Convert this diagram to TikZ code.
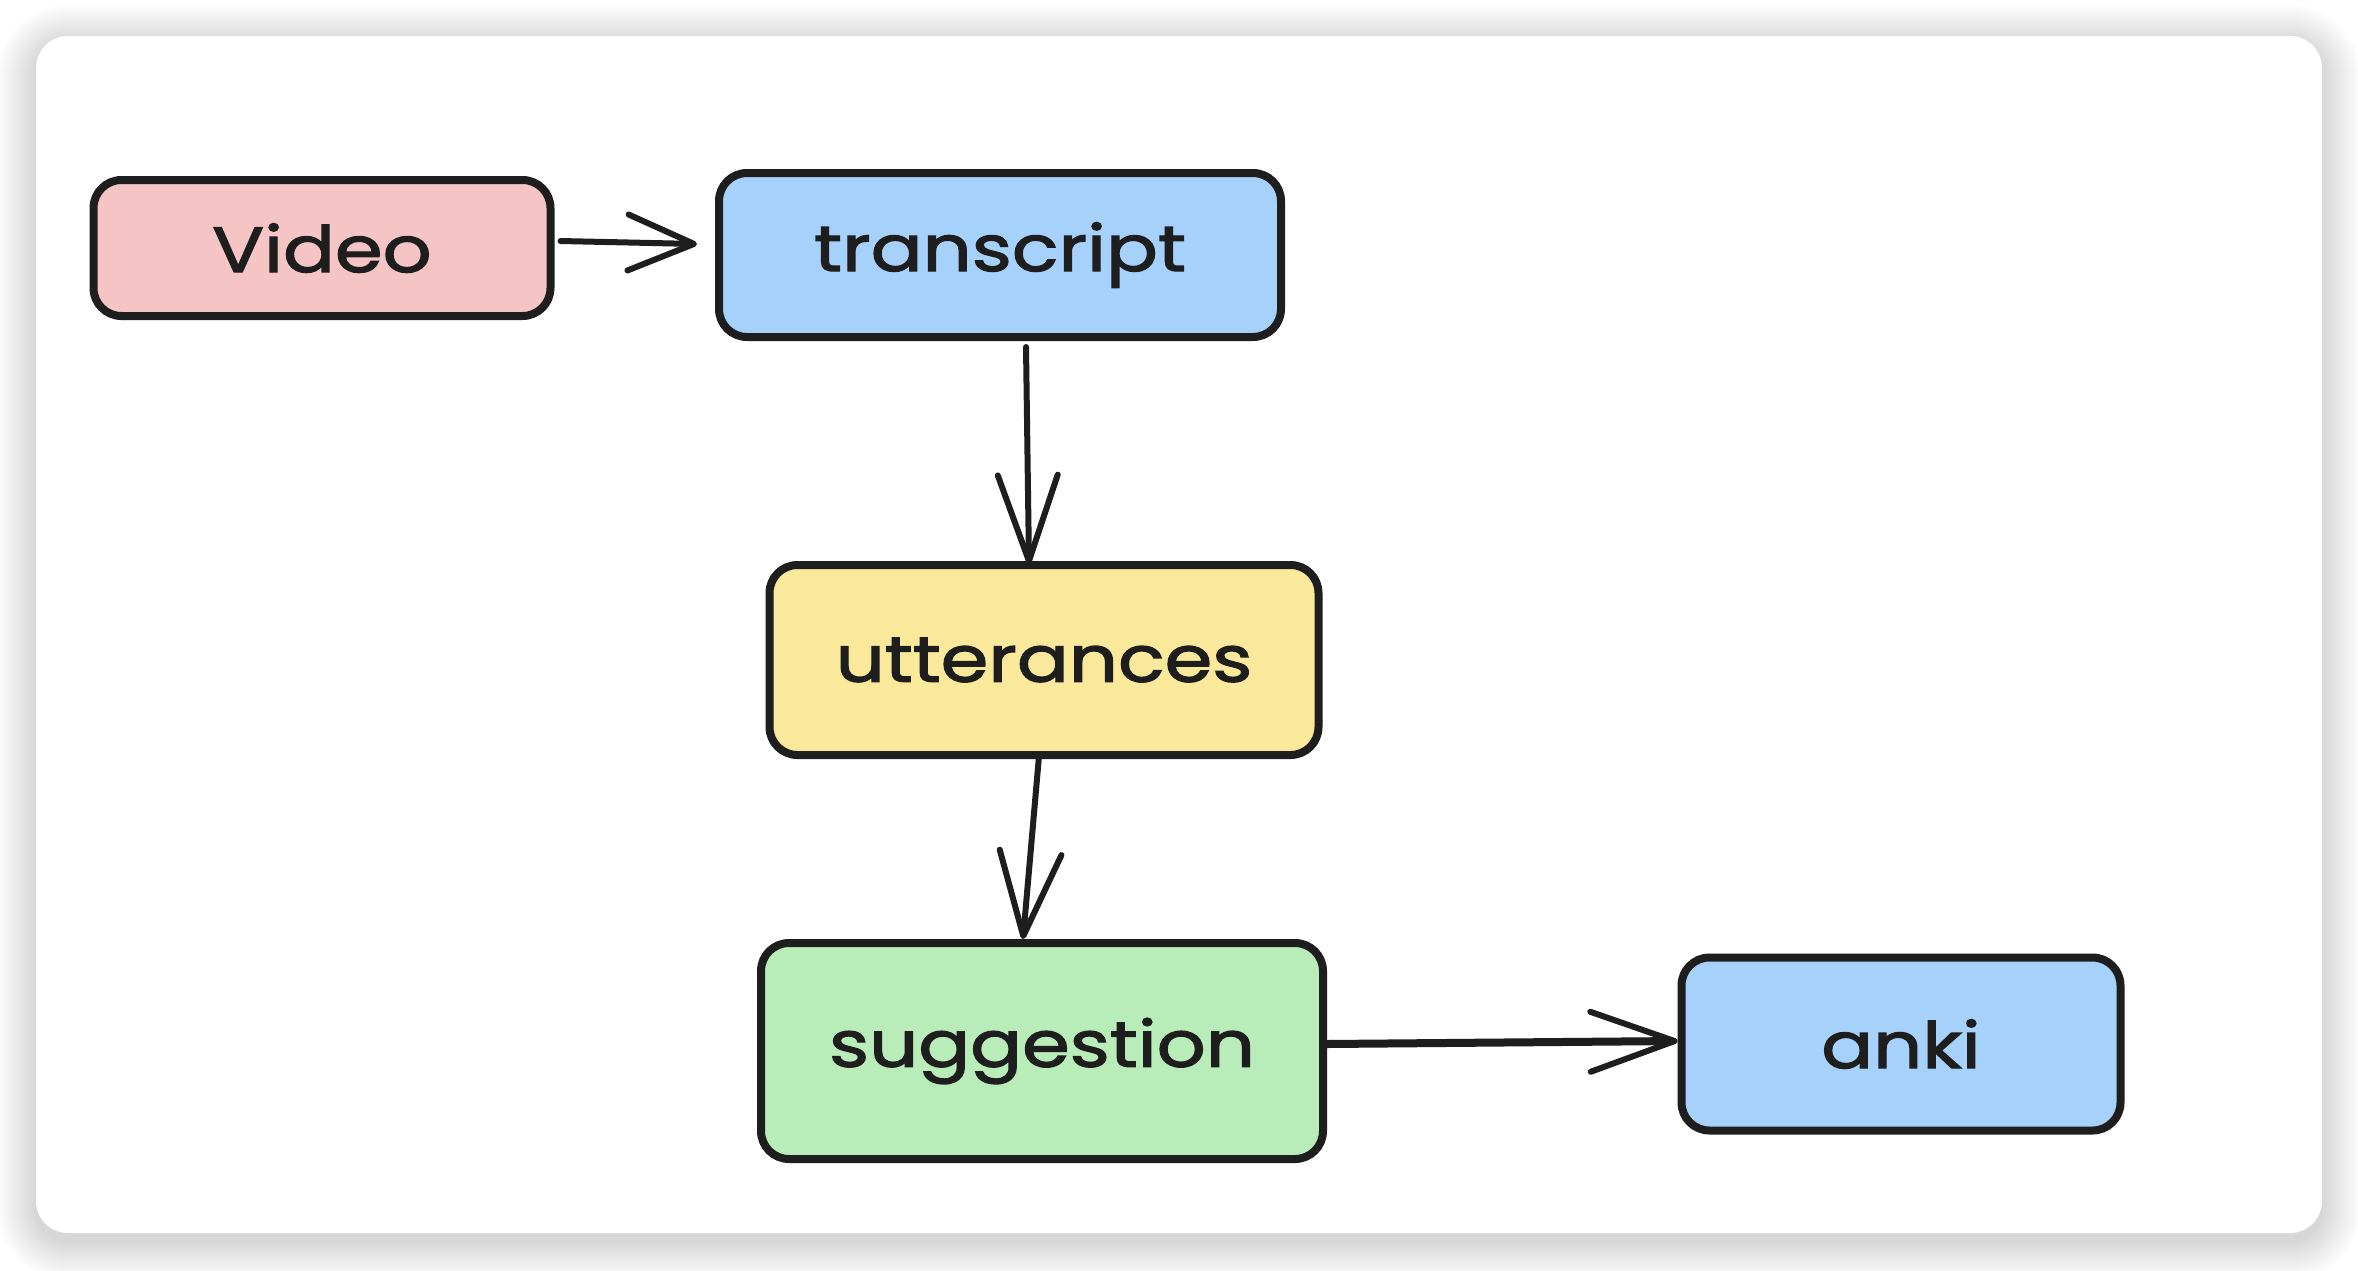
\documentclass[tikz,border=0pt]{standalone}
\usepackage{fontspec}
\setmainfont{Poppins}
\newfontfamily\handfont{Poppins}[FakeStretch=1.2, FakeBold=2]
\usetikzlibrary{arrows.meta}
\definecolor{ink}{HTML}{1E1E1E}
\definecolor{pinkf}{HTML}{F5C5C5}
\definecolor{bluef}{HTML}{A6D1FA}
\definecolor{yellowf}{HTML}{FAE99A}
\definecolor{greenf}{HTML}{B8ECB8}
\tikzset{
  box/.style={rectangle, draw=ink, line width=8pt, rounded corners=28pt, text=ink,
    font=\handfont\fontsize{64}{76}\selectfont, inner sep=0pt},
  arr/.style={draw=ink, line width=6pt, line cap=round,
    -{Straight Barb[length=66pt, width=56pt, line width=6pt, round]}},
}
\begin{document}
\begin{tikzpicture}[x=1pt, y=-1pt]
\useasboundingbox (0,0) rectangle (2358,1270);
\fill[white] (0,0) rectangle (2358,1270);
% soft shadow of the card
\foreach \i in {1,...,40}{
  \fill[black, opacity=0.0035, rounded corners={32+\i}] ({36-\i},{36-\i+8}) rectangle ({2322+\i},{1233+\i+8});
}
\fill[white, rounded corners=32] (36,36) rectangle (2322,1233);

\node[box, fill=pinkf,   minimum width=457, minimum height=136] (video) at (322,248)  {Video};
\node[box, fill=bluef,   minimum width=562, minimum height=164] (trans) at (1000,255) {transcript};
\node[box, fill=yellowf, minimum width=549, minimum height=190] (utter) at (1044,660) {utterances};
\node[box, fill=greenf,  minimum width=562, minimum height=216] (sugg)  at (1042,1051) {suggestion};
\node[box, fill=bluef,   minimum width=439, minimum height=173] (anki)  at (1901,1044) {anki};

\draw[arr] ([xshift=6pt,yshift=7pt]video.east) -- ([xshift=-18pt,yshift=11pt]trans.west);
\draw[arr, -{Straight Barb[length=86pt, width=60pt, line width=6pt, round]}]
  ([xshift=26pt,yshift=-6pt]trans.south) -- ([xshift=-15pt,yshift=-3pt]utter.north);
\draw[arr, -{Straight Barb[length=84pt, width=62pt, line width=6pt, round]}]
  ([xshift=-5pt,yshift=3pt]utter.south) -- ([xshift=-19pt]sugg.north);
\draw[arr, line width=8pt, -{Straight Barb[length=84pt, width=60pt, line width=6pt, round]}]
  ([yshift=7pt]sugg.east) -- ([yshift=3pt]anki.west);
\end{tikzpicture}
\end{document}
